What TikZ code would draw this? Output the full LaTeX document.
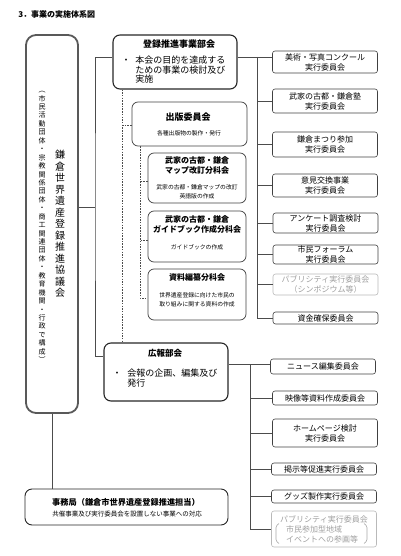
\documentclass[tikz,border=0pt]{standalone}
\usepackage{fontspec}
\setmainfont{Noto Sans CJK JP}
\usetikzlibrary{positioning}

\begin{document}
\begin{tikzpicture}[
    x = 1pt, y = -1pt, %
    link/.style = {draw = black!70, line width = 0.6pt},
    dlink/.style = {link, line width = 0.5pt, dash pattern = on 1.5pt off 1.2pt},
    semithick %
    ]

    \tikzset{
    bukai/.style = {draw = black!85, line width = 1.1pt, rounded corners = 7pt,
        minimum width = 124pt, inner sep = 0pt},
    bunka/.style = {draw = black!75, line width = 0.7pt, rounded corners = 6pt,
        minimum width = 98pt, inner sep = 0pt},
    iinkai/.style = {draw = black!75, line width = 0.6pt, rounded corners = 2.5pt,
        minimum width = 105pt, inner sep = 0.5pt, align = center,
        font = \fontsize{8}{10}\selectfont},
    usui/.style = {iinkai, draw = gray!55, text = gray!75},
    midashi/.style = {font = \bfseries\fontsize{8}{10}\selectfont, align = center, inner sep = 0pt},
    setsumei/.style = {font = \fontsize{5.8}{9}\selectfont, align = center, inner sep = 0pt},
    honbun/.style = {font = \fontsize{9}{9.5}\selectfont, align = left, inner sep = 0pt}
    }

    \useasboundingbox (0,0) rectangle (400,556);

    \node[midashi, anchor = west] (title) at (18,14) {3．事業の実施体系図};

    % kyogikai
    \node[draw = black!65, line width = 1.8pt, rounded corners = 10pt,
        minimum width = 52pt, minimum height = 378pt, inner sep = 0pt] (kyogikai) at (52,224) {};
    \node[align = center, inner sep = 0pt, font = \fontsize{10}{11.5}\selectfont] (kyogikaiT) at (60,224)
        {鎌\\倉\\世\\界\\遺\\産\\登\\録\\推\\進\\協\\議\\会};
    \node[align = center, inner sep = 0pt, font = \fontsize{7}{8.44}\selectfont] (kosei) at (42,227)
        {︵\\市\\民\\活\\動\\団\\体\\・\\宗\\教\\関\\係\\団\\体\\・\\商\\工\\関\\連\\団\\体\\・\\教\\育\\機\\関\\・\\行\\政\\で\\構\\成\\︶};

    % toroku suishin jigyo bukai
    \node[bukai, minimum height = 54pt] (toroku) at (175,62) {};
    \node[midashi, font = \bfseries\fontsize{9}{10}\selectfont] (torokuT) at (179,44) {登録推進事業部会};
    \node[inner sep = 0pt, font = \fontsize{9}{9.5}\selectfont] (torokuDot) at (126,61) {・};
    \node[honbun, anchor = west] (torokuB) at (135,70) {本会の目的を達成する\\ための事業の検討及び\\実施};

    \node[bunka, minimum width = 115pt, minimum height = 44pt] (shuppan) at (189.5,124) {};
    \node[midashi, font = \bfseries\fontsize{9}{10}\selectfont] (shuppanT) at (188,117) {出版委員会};
    \node[setsumei] (shuppanS) at (189,133) {各種出版物の製作・発行};

    \node[bunka, minimum height = 50pt] (mappu) at (197,178) {};
    \node[midashi] (mappuT) at (197,165.5) {武家の古都・鎌倉\\マップ改訂分科会};
    \node[setsumei] (mappuS) at (197,191.5) {武家の古都・鎌倉マップの改訂\\英語版の作成};

    \node[bunka, minimum height = 51pt] (guide) at (197,236.5) {};
    \node[midashi] (guideT) at (197,224) {武家の古都・鎌倉\\ガイドブック作成分科会};
    \node[setsumei] (guideS) at (197,247) {ガイドブックの作成};

    \node[bunka, minimum height = 51pt] (shiryo) at (197,294.5) {};
    \node[midashi] (shiryoT) at (197,277) {資料編纂分科会};
    \node[setsumei] (shiryoS) at (197,299.5) {世界遺産登録に向けた市民の\\取り組みに関する資料の作成};

    % koho bukai
    \node[bukai, minimum height = 58pt] (koho) at (166,372) {};
    \node[midashi, font = \bfseries\fontsize{8.5}{10}\selectfont] (kohoT) at (165,353) {広報部会};
    \node[inner sep = 0pt, font = \fontsize{9}{9.5}\selectfont] (kohoDot) at (117,374) {・};
    \node[honbun, font = \fontsize{9}{10}\selectfont, anchor = west] (kohoB) at (127,378) {会報の企画、編集及び\\発行};

    % jimukyoku
    \node[bukai, line width = 0.9pt, minimum width = 203pt, minimum height = 36pt] (jimu) at (126.5,507) {};
    \node[midashi, font = \bfseries\fontsize{8.2}{10}\selectfont] (jimuT) at (126,502) {事務局（鎌倉市世界遺産登録推進担当）};
    \node[setsumei, font = \fontsize{6.5}{8}\selectfont] (jimuS) at (127,514) {共催事業及び実行委員会を設置しない事業への対応};

    % jikko iinkai
    \node[iinkai, minimum height = 22pt] (bijutsu) at (325,62) {美術・写真コンクール\\実行委員会};
    \node[iinkai, minimum height = 24pt] (juku) at (325,101) {武家の古都・鎌倉塾\\実行委員会};
    \node[iinkai, minimum height = 25pt] (matsuri) at (325,144.5) {鎌倉まつり参加\\実行委員会};
    \node[iinkai, minimum height = 23pt] (iken) at (325,185.5) {意見交換事業\\実行委員会};
    \node[iinkai, minimum height = 20pt] (enquete) at (325.5,223) {アンケート調査検討\\実行委員会};
    \node[iinkai, minimum height = 19pt] (forum) at (325.5,254.5) {市民フォーラム\\実行委員会};
    \node[usui, minimum height = 21pt] (pubA) at (325.5,284.5) {パブリシティ実行委員会\\（シンポジウム等）};
    \node[iinkai, minimum height = 12pt] (shikin) at (325.5,318) {資金確保委員会};

    \node[iinkai, minimum height = 15pt] (news) at (323,366.5) {ニュース編集委員会};
    \node[iinkai, minimum height = 14pt] (eizo) at (325,398) {映像等資料作成委員会};
    \node[iinkai, minimum height = 28pt] (homepage) at (325,433) {ホームページ検討\\実行委員会};
    \node[iinkai, minimum height = 12pt] (keiji) at (324,469) {掲示等促進実行委員会};
    \node[iinkai, minimum height = 13pt] (goods) at (324,496.5) {グッズ製作実行委員会};
    \node[usui, minimum height = 36pt, align = left] (pubB) at (324,529)
        {パブリシティ実行委員会\\\hspace*{6pt}市民参加型地域\\\hspace*{6pt}イベントへの参画等};
    \draw[gray!70, line width = 0.6pt, rounded corners = 1.5pt] (279,523.5) -- (276,526) -- (276,541) -- (279,543.5);
    \draw[gray!70, line width = 0.6pt, rounded corners = 1.5pt] (364,523.5) -- (367,526) -- (367,541) -- (364,543.5);

    % connectors
    \coordinate (trunkL) at (95,207);
    \coordinate (trunkR) at (257,57);
    \coordinate (trunkK) at (250,364);
    \coordinate (dashA) at (122,125);
    \coordinate (dashB) at (140,298);

    \draw[link] (kyogikai.east |- trunkL) -- (trunkL);
    \draw[link] ([yshift = 5pt]toroku.west) -| (trunkL) |- ([yshift = 16pt]koho.west);
    \draw[link] (kyogikai.south) -- (kyogikai.south |- jimu.north);

    \draw[link] ([yshift = 5pt]toroku.east) -- ([yshift = 5pt]toroku.east -| bijutsu.west);
    \draw[link] (trunkR) |- (shikin.west);
    \foreach \n in {juku,matsuri,iken,enquete,forum,pubA}
        \draw[link] (\n.west) -- (\n.west -| trunkR);

    \draw[link] ([yshift = 8pt]koho.east) -- ([yshift = 8pt]koho.east -| news.west);
    \draw[link] (trunkK) |- (pubB.west);
    \foreach \n in {eizo,homepage,keiji,goods}
        \draw[link] (\n.west) -- (\n.west -| trunkK);

    \draw[dlink] (toroku.south -| dashA) -- (koho.north -| dashA);
    \draw[dlink] (dashA) -- (dashA -| shuppan.west);
    \draw[dlink] (shuppan.south -| dashB) |- ([yshift = -3.5pt]shiryo.west);
    \foreach \n in {mappu,guide}
        \draw[dlink] ([yshift = -3.5pt]\n.west) -- ([yshift = -3.5pt]\n.west -| dashB);

\end{tikzpicture}
\end{document}
